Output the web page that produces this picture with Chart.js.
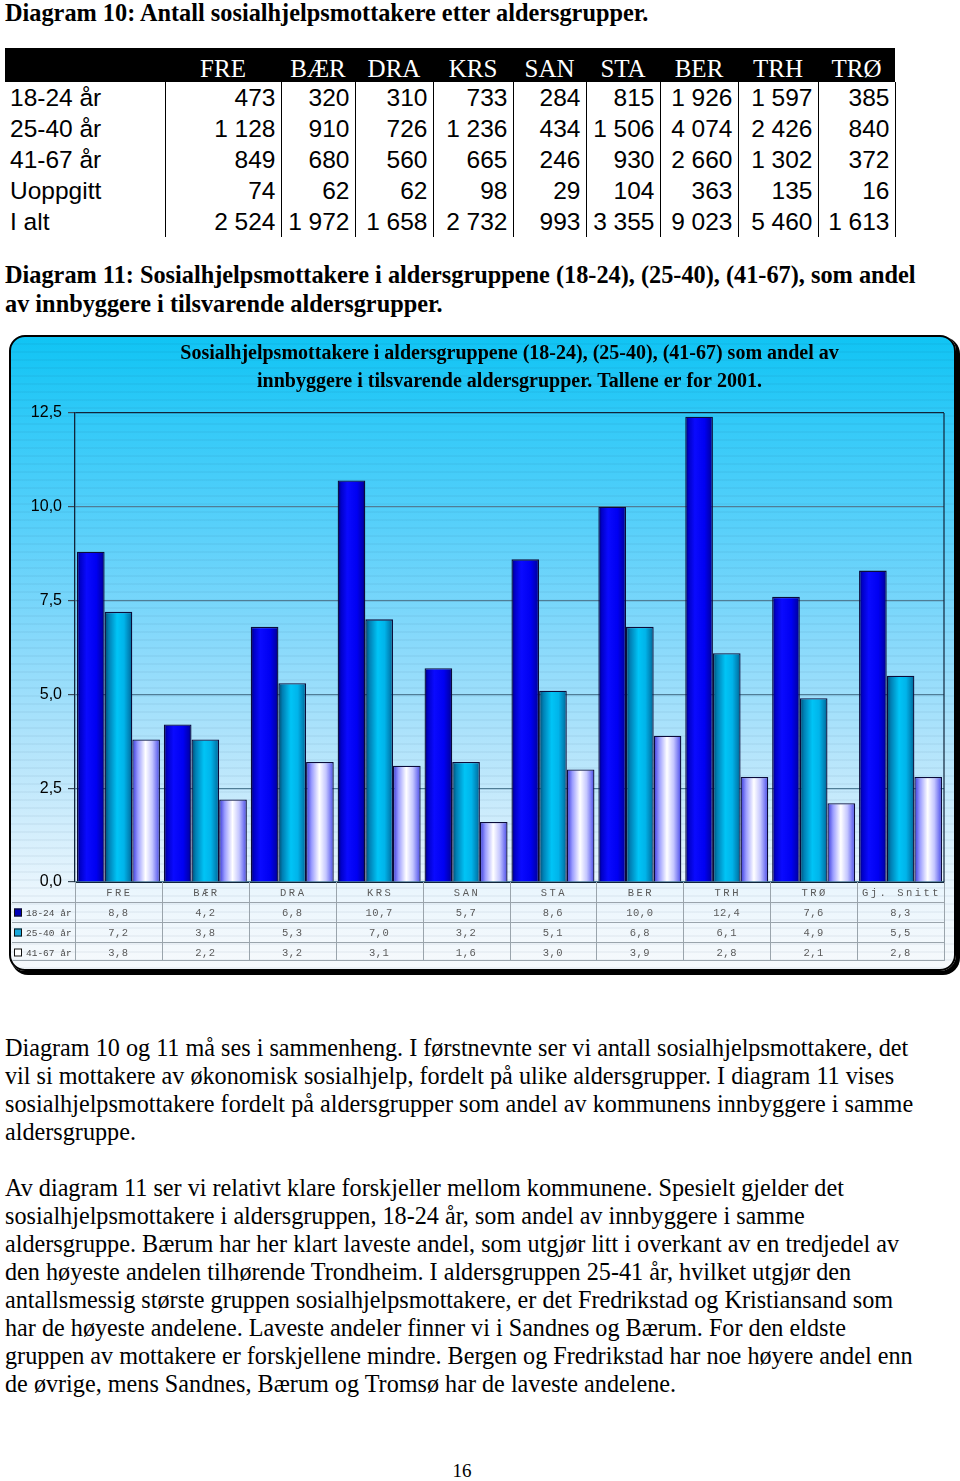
<!DOCTYPE html>
<html>
<head>
<meta charset="utf-8">
<script src="https://cdn.jsdelivr.net/npm/chart.js@4/dist/chart.umd.min.js"></script>
<style>
  body { margin: 0; background: #fff; width: 960px; height: 1481px; position: relative; overflow: hidden;
         font-family: "Liberation Serif", "Times New Roman", serif; color: #000; }
  .head { position: absolute; left: 5px; font-weight: bold; font-size: 24.3px; line-height: 29px; white-space: nowrap; }
  .para { position: absolute; left: 5px; font-size: 24.2px; line-height: 28px; white-space: nowrap; }
  #t10 { position: absolute; left: 5px; top: 48px; border-collapse: collapse; table-layout: fixed; width: 890px; }
  #t10 th { background: #000; color: #fff; font-weight: normal; font-size: 25px; height: 34px; padding: 0;
            text-align: center; vertical-align: bottom; line-height: 27px; }
  #t10 td { font-family: "Liberation Sans", Arial, sans-serif; font-size: 24.5px; height: 31px; padding: 0 5px 0 0;
            text-align: right; border-right: 1.5px solid #000; line-height: 31px; white-space: nowrap; }
  #t10 td.rh { text-align: left; padding-left: 5px; }
  #panel { position: absolute; left: 9px; top: 335px; width: 943px; height: 632px; border: 2px solid #000;
           border-radius: 16px; box-shadow: 3px 3px 0 1px #000; overflow: hidden;
           background:
             repeating-linear-gradient(to bottom, rgba(255,255,255,0) 0 6px, rgba(0,40,80,0.045) 6px 8px),
             linear-gradient(to bottom, #10c4f4 0%, #34caf8 14%, #58d0fa 30%, #82d8fb 46%, #abe2fb 62%, #d0edfc 77%, #ebf6fd 88%, #f6f9fc 100%); }
  #page { position: absolute; left: 0; width: 924px; top: 1460px; text-align: center; font-size: 19px; }
</style>
</head>
<body>
<div class="head" style="top:-2px">Diagram 10: Antall sosialhjelpsmottakere etter aldersgrupper.</div>
<table id="t10"></table>
<div class="head" style="top:260px">Diagram 11: Sosialhjelpsmottakere i aldersgruppene (18-24), (25-40), (41-67), som andel<br>av innbyggere i tilsvarende aldersgrupper.</div>
<div id="panel"><canvas id="chart" width="943" height="632"></canvas></div>
<div class="para" style="top:1034px">Diagram 10 og 11 må ses i sammenheng. I førstnevnte ser vi antall sosialhjelpsmottakere, det<br>vil si mottakere av økonomisk sosialhjelp, fordelt på ulike aldersgrupper. I diagram 11 vises<br>sosialhjelpsmottakere fordelt på aldersgrupper som andel av kommunens innbyggere i samme<br>aldersgruppe.</div>
<div class="para" style="top:1174px">Av diagram 11 ser vi relativt klare forskjeller mellom kommunene. Spesielt gjelder det<br>sosialhjelpsmottakere i aldersgruppen, 18-24 år, som andel av innbyggere i samme<br>aldersgruppe. Bærum har her klart laveste andel, som utgjør litt i overkant av en tredjedel av<br>den høyeste andelen tilhørende Trondheim. I aldersgruppen 25-41 år, hvilket utgjør den<br>antallsmessig største gruppen sosialhjelpsmottakere, er det Fredrikstad og Kristiansand som<br>har de høyeste andelene. Laveste andeler finner vi i Sandnes og Bærum. For den eldste<br>gruppen av mottakere er forskjellene mindre. Bergen og Fredrikstad har noe høyere andel enn<br>de øvrige, mens Sandnes, Bærum og Tromsø har de laveste andelene.</div>
<div id="page">16</div>

<script>
// Diagram 10 (antall)
const kommuner = ['FRE', 'BÆR', 'DRA', 'KRS', 'SAN', 'STA', 'BER', 'TRH', 'TRØ'];
const radNavn = ['18-24 år', '25-40 år', '41-67 år', 'Uoppgitt', 'I alt'];
const antall1824 = [473, 320, 310, 733, 284, 815, 1926, 1597, 385];
const antall2540 = [1128, 910, 726, 1236, 434, 1506, 4074, 2426, 840];
const antall4167 = [849, 680, 560, 665, 246, 930, 2660, 1302, 372];
const antallUoppgitt = [74, 62, 62, 98, 29, 104, 363, 135, 16];
const antallTotalt = [2524, 1972, 1658, 2732, 993, 3355, 9023, 5460, 1613];

// Diagram 11 (andel av innbyggere)
const labels = ['FRE', 'BÆR', 'DRA', 'KRS', 'SAN', 'STA', 'BER', 'TRH', 'TRØ', 'Gj. Snitt'];
const seriesNames = ['18-24 år', '25-40 år', '41-67 år'];
const andel1824 = [8.8, 4.2, 6.8, 10.7, 5.7, 8.6, 10.0, 12.4, 7.6, 8.3];
const andel2540 = [7.2, 3.8, 5.3, 7.0, 3.2, 5.1, 6.8, 6.1, 4.9, 5.5];
const andel4167 = [3.8, 2.2, 3.2, 3.1, 1.6, 3.0, 3.9, 2.8, 2.1, 2.8];
const yTicks = [0, 2.5, 5, 7.5, 10, 12.5];

// build the number table
const colW = [160, 116, 74, 78, 80, 73, 74, 78, 80, 77];
const fmt = n => String(n).replace(/\B(?=(\d{3})+(?!\d))/g, ' ');
const t10 = document.getElementById('t10');
let html = '<colgroup>' + colW.map(w => `<col style="width:${w}px">`).join('') + '</colgroup>';
html += '<tr><th></th>' + kommuner.map(k => `<th>${k}</th>`).join('') + '</tr>';
[antall1824, antall2540, antall4167, antallUoppgitt, antallTotalt].forEach((row, r) => {
  html += `<tr><td class="rh">${radNavn[r]}</td>` + row.map(v => `<td>${fmt(v)}</td>`).join('') + '</tr>';
});
t10.innerHTML = html;

// bar gradients (left -> right)
const STOPS = [
  [[0, '#00005e'], [0.12, '#0000c8'], [0.35, '#0a0aff'], [0.7, '#0000f2'], [0.9, '#0000b4'], [1, '#000070']],
  [[0, '#004a6e'], [0.15, '#007fb4'], [0.45, '#00c4f6'], [0.7, '#00b4ea'], [0.9, '#0080b4'], [1, '#005a84']],
  [[0, '#3434d8'], [0.2, '#9a9cff'], [0.48, '#ffffff'], [0.72, '#c4c6ff'], [0.92, '#6a6cf0'], [1, '#3a3ad8']]
];
const FLAT = ['#0000e0', '#00b4ea', '#e8e8ff'];
const KEY = ['#0000b8', '#18a8dc', '#ffffff'];
const CAT_PCT = 0.955;

function barFill(c, k) {
  const chart = c.chart, x = chart.scales.x;
  if (c.type !== 'data' || !chart.chartArea || !x) return FLAT[k];
  const cat = (x.right - x.left) / labels.length;
  const group = cat * CAT_PCT, bw = group / 3;
  const left = x.getPixelForValue(c.dataIndex) - group / 2 + bw * k;
  const g = chart.ctx.createLinearGradient(left, 0, left + bw, 0);
  STOPS[k].forEach(([o, col]) => g.addColorStop(o, col));
  return g;
}

const num = v => v.toFixed(1).replace('.', ',');

// data table under the plot + right plot border
const dataTable = {
  id: 'dataTable',
  afterDraw(chart) {
    const { ctx, chartArea: a, scales: { x } } = chart;
    const rowH = 20, tableBottom = a.bottom + 79;
    const cat = (x.right - x.left) / labels.length;
    ctx.save();
    // plot frame right side
    ctx.strokeStyle = '#10243a';
    ctx.lineWidth = 1.2;
    ctx.beginPath();
    ctx.moveTo(a.right, a.top); ctx.lineTo(a.right, a.bottom);
    ctx.stroke();

    ctx.strokeStyle = '#9aa4ac';
    ctx.lineWidth = 1;
    ctx.beginPath();
    for (let r = 1; r <= 3; r++) {
      const y = Math.round(a.bottom + rowH * r) + 0.5;
      ctx.moveTo(1, y); ctx.lineTo(a.right, y);
    }
    ctx.moveTo(1, tableBottom - 0.5); ctx.lineTo(a.right, tableBottom - 0.5);
    for (let i = 0; i <= labels.length; i++) {
      const xx = Math.round(a.left + cat * i) + 0.5;
      ctx.moveTo(xx, a.bottom); ctx.lineTo(xx, tableBottom);
    }
    ctx.stroke();

    ctx.textAlign = 'center';
    ctx.textBaseline = 'middle';
    ctx.fillStyle = '#5a5a5a';
    ctx.font = '10.5px "Liberation Mono", "Courier New", monospace';
    ctx.letterSpacing = '2.5px';
    labels.forEach((lab, i) => ctx.fillText(lab, x.getPixelForValue(i) + 1, a.bottom + rowH / 2 + 1));
    [andel1824, andel2540, andel4167].forEach((row, r) => {
      const y = a.bottom + rowH * (r + 1) + rowH / 2 + 1;
      ctx.textAlign = 'center';
      ctx.fillStyle = '#5a5a5a';
      ctx.letterSpacing = '0.5px';
      ctx.font = '10.5px "Liberation Mono", "Courier New", monospace';
      row.forEach((v, i) => ctx.fillText(num(v), x.getPixelForValue(i), y));
      // legend key
      ctx.fillStyle = KEY[r];
      ctx.fillRect(3, y - 4.5, 8, 8);
      ctx.strokeStyle = '#111';
      ctx.strokeRect(3.5, y - 4, 7, 7);
      ctx.fillStyle = '#4a4a4a';
      ctx.textAlign = 'left';
      ctx.letterSpacing = '0px';
      ctx.font = '9.5px "Liberation Mono", "Courier New", monospace';
      ctx.fillText(seriesNames[r], 15, y);
    });
    ctx.restore();
  }
};

new Chart(document.getElementById('chart'), {
  type: 'bar',
  data: {
    labels: labels,
    datasets: [andel1824, andel2540, andel4167].map((d, k) => ({
      label: seriesNames[k],
      data: d,
      backgroundColor: c => barFill(c, k),
      borderColor: '#0b0b3a',
      borderWidth: 1.3
    }))
  },
  options: {
    responsive: false,
    animation: false,
    devicePixelRatio: 1,
    layout: { padding: { left: 0, right: 10, top: 0, bottom: 79 } },
    datasets: { bar: { categoryPercentage: CAT_PCT, barPercentage: 1 } },
    plugins: {
      legend: { display: false },
      tooltip: { enabled: false },
      title: {
        display: true,
        fullSize: false,
        text: ['Sosialhjelpsmottakere i aldersgruppene (18-24), (25-40), (41-67) som andel av',
               'innbyggere i tilsvarende aldersgrupper. Tallene er for 2001.'],
        color: '#000',
        font: { family: '"Liberation Serif", "Times New Roman", serif', weight: 'bold', size: 20, lineHeight: 1.4 },
        padding: { top: 3, bottom: 17 }
      }
    },
    scales: {
      x: {
        ticks: { display: false },
        grid: { display: false },
        border: { display: true, color: '#10243a', width: 1 }
      },
      y: {
        min: 0,
        max: 12.5,
        afterFit: s => { s.width = 64; },
        afterBuildTicks: s => { s.ticks = yTicks.map(v => ({ value: v })); },
        ticks: {
          callback: v => num(v),
          color: '#000',
          font: { family: '"Liberation Sans", Arial, sans-serif', size: 16 },
          padding: 6
        },
        grid: {
          color: c => c.tick && c.tick.value === 12.5 ? '#10243a' : '#4f7d96',
          lineWidth: 1.2,
          tickLength: 7,
          tickColor: '#3a4a58'
        },
        border: { color: '#10243a', width: 1.3 }
      }
    }
  },
  plugins: [dataTable]
});
</script>
</body>
</html>
